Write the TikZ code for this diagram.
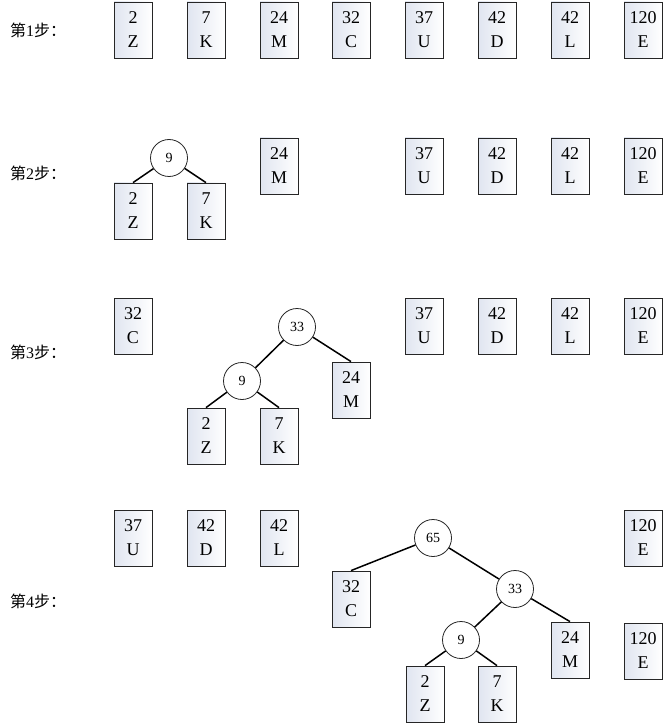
\documentclass[tikz,border=0pt]{standalone}
\usepackage{fontspec}
\setmainfont{Liberation Serif}
\newfontfamily\cjk{Noto Sans CJK SC}
\begin{document}
\begin{tikzpicture}[x=1pt,y=-1pt,
  leaf/.style={draw=black!85, line width=0.8pt, rectangle, minimum width=38pt, minimum height=56pt, inner sep=0pt,
    left color={rgb,255:red,224;green,229;blue,240}, right color=white, shading angle=90,
    align=center, font=\fontsize{18}{24}\selectfont},
  inner/.style={draw=black!85, line width=0.8pt, circle, minimum size=37pt, inner sep=0pt, fill=white,
    font=\fontsize{14}{16}\selectfont},
  edge/.style={line width=1.5pt, black},
  steplabel/.style={anchor=west, inner sep=0pt, font=\fontsize{16}{18}\selectfont}]
\useasboundingbox (0,0) rectangle (670,727);
% labels
\node[steplabel] (l1) at (10,30) {{\cjk 第}1{\cjk 步：}};
\node[steplabel] (l2) at (10,173) {{\cjk 第}2{\cjk 步：}};
\node[steplabel] (l3) at (10,352) {{\cjk 第}3{\cjk 步：}};
\node[steplabel] (l4) at (10,601) {{\cjk 第}4{\cjk 步：}};
% step 1
\node[leaf] (a1) at (133,30) {2\\Z};
\node[leaf] (a2) at (206,30) {7\\K};
\node[leaf] (a3) at (279,30) {24\\M};
\node[leaf] (a4) at (351,30) {32\\C};
\node[leaf] (a5) at (424,30) {37\\U};
\node[leaf] (a6) at (497,30) {42\\D};
\node[leaf] (a7) at (570,30) {42\\L};
\node[leaf] (a8) at (643,30) {120\\E};
% step 2
\node[inner] (b9) at (169,158) {9};
\node[leaf] (b1) at (133,211) {2\\Z};
\node[leaf] (b2) at (206,211) {7\\K};
\node[leaf] (b3) at (279,166) {24\\M};
\node[leaf] (b5) at (424,166) {37\\U};
\node[leaf] (b6) at (497,166) {42\\D};
\node[leaf] (b7) at (570,166) {42\\L};
\node[leaf] (b8) at (643,166) {120\\E};
\draw[edge] (b9) -- (b1.north);
\draw[edge] (b9) -- (b2.north);
% step 3
\node[leaf] (c4) at (133,326) {32\\C};
\node[inner] (c33) at (297,327) {33};
\node[inner] (c9) at (242,381) {9};
\node[leaf] (c3) at (351,390) {24\\M};
\node[leaf] (c1) at (206,436) {2\\Z};
\node[leaf] (c2) at (279,436) {7\\K};
\node[leaf] (c5) at (424,326) {37\\U};
\node[leaf] (c6) at (497,326) {42\\D};
\node[leaf] (c7) at (570,326) {42\\L};
\node[leaf] (c8) at (643,326) {120\\E};
\draw[edge] (c33) -- (c9);
\draw[edge] (c33) -- (c3.north);
\draw[edge] (c9) -- (c1.north);
\draw[edge] (c9) -- (c2.north);
% step 4
\node[leaf] (d5) at (133,538) {37\\U};
\node[leaf] (d6) at (206,538) {42\\D};
\node[leaf] (d7) at (279,538) {42\\L};
\node[leaf] (d8) at (643,538) {120\\E};
\node[inner] (d65) at (433,538) {65};
\node[leaf] (d4) at (351,599) {32\\C};
\node[inner] (d33) at (515,589) {33};
\node[leaf] (d3) at (570,650) {24\\M};
\node[inner] (d9) at (461,640) {9};
\node[leaf] (d1) at (425,694) {2\\Z};
\node[leaf] (d2) at (497,694) {7\\K};
\node[leaf] (d8b) at (643,651) {120\\E};
\draw[edge] (d65) -- (d4.north);
\draw[edge] (d65) -- (d33);
\draw[edge] (d33) -- (d9);
\draw[edge] (d33) -- (d3.north);
\draw[edge] (d9) -- (d1.north);
\draw[edge] (d9) -- (d2.north);
\end{tikzpicture}
\end{document}
